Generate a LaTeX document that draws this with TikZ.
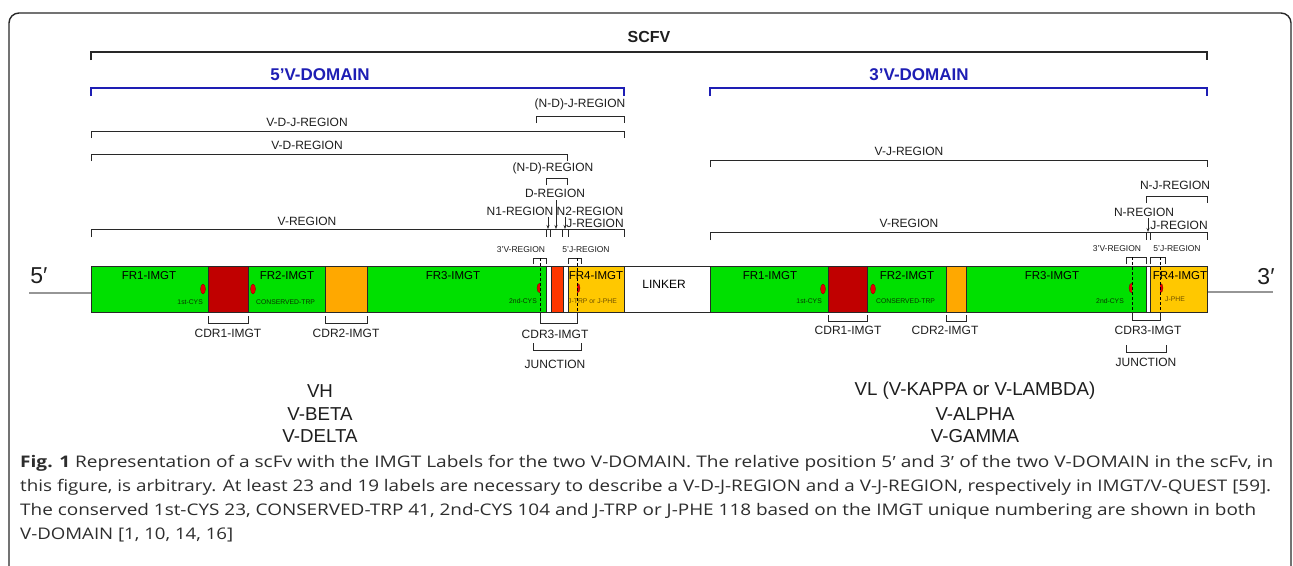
\documentclass[tikz,border=0pt]{standalone}
\usepackage{fontspec}
\setmainfont{Liberation Sans}
\newfontfamily\capfont{Open Sans}
\newfontfamily\libsans{Liberation Sans}
\usepackage{graphicx}
\usetikzlibrary{arrows.meta}
\definecolor{fgreen}{RGB}{0,224,0}
\definecolor{cdrone}{RGB}{192,0,0}
\definecolor{cdrtwo}{RGB}{255,168,0}
\definecolor{dseg}{RGB}{255,55,0}
\definecolor{frfour}{RGB}{255,200,0}
\definecolor{dblue}{RGB}{30,30,180}
\definecolor{glin}{RGB}{150,150,150}
\definecolor{lnc}{RGB}{40,40,40}
\definecolor{txt}{RGB}{30,30,30}
\definecolor{captxt}{RGB}{45,45,45}
\definecolor{tgreen}{RGB}{10,50,0}
\definecolor{tbrown}{RGB}{110,80,0}
\definecolor{resred}{RGB}{230,0,0}
\definecolor{framec}{RGB}{40,40,40}
\newlength\capw
\newcommand\fitline[2]{\settowidth\capw{#2}\pgfmathsetmacro\capsc{#1/\capw}\scalebox{\capsc}[1]{#2}}
\newcommand\pr{{\libsans ′}}
\newcommand\brkt[4]{\draw[br] (#1,#4) -- (#1,#3) -- (#2,#3) -- (#2,#4);}
\tikzset{
 lab/.style={inner sep=0, text=txt, font=\fontsize{12}{13}\selectfont},
 sml/.style={inner sep=0, text=txt, font=\fontsize{8.5}{10}\selectfont},
 tny/.style={inner sep=0, text=tgreen, font=\fontsize{6.8}{8}\selectfont},
 seglab/.style={inner sep=0, text=black, font=\fontsize{11.5}{12}\selectfont},
 big/.style={inner sep=0, text=txt, font=\fontsize{18.7}{20}\selectfont},
 prime/.style={inner sep=0, text=txt, font=\fontsize{23}{24}\selectfont},
 seg/.style={draw=lnc, line width=0.8pt},
 br/.style={draw=lnc, line width=0.8pt},
 dsh/.style={draw=black, line width=0.8pt, dash pattern=on 3pt off 2pt},
 res/.style={fill=resred, draw=resred!55!black, line width=0.3pt},
 arr/.style={draw=lnc, line width=0.8pt, -{Stealth[length=4pt,width=3pt]}},
}
\begin{document}
\begin{tikzpicture}[x=1pt,y=-1pt]
\useasboundingbox (0,0) rectangle (1293,565);
\fill[white] (0,0) rectangle (1293,565);
% frame
\draw[framec, line width=1.4pt, rounded corners=10pt] (9,600) -- (9,13) -- (1291,13) -- (1291,600);

% ===== top brackets =====
\node[inner sep=0, font=\bfseries\fontsize{16}{17}\selectfont, text=txt] (scfv) at (649,37) {SCFV};
\draw[lnc, line width=2pt] (91,60) -- (91,52) -- (1207,52) -- (1207,60);
\node[inner sep=0, font=\bfseries\fontsize{17}{18}\selectfont, text=dblue] (vd5) at (320,75) {5’V-DOMAIN};
\node[inner sep=0, font=\bfseries\fontsize{17}{18}\selectfont, text=dblue] (vd3) at (919,75) {3’V-DOMAIN};
\draw[dblue, line width=2pt] (91,96) -- (91,88) -- (624,88) -- (624,96);
\draw[dblue, line width=2pt] (710,96) -- (710,88) -- (1207,88) -- (1207,96);

% left domain brackets
\node[lab] (ndj) at (580,104) {(N-D)-J-REGION};
\brkt{536}{624}{116}{123}
\node[lab] (vdj) at (307,122) {V-D-J-REGION};
\brkt{91}{624}{131}{138}
\node[lab] (vdr) at (307,145) {V-D-REGION};
\brkt{91}{567}{154}{161}
\node[lab] (ndr) at (553,168) {(N-D)-REGION};
\brkt{546}{567}{178}{185}
\node[lab] (dr) at (555,193) {D-REGION};
\node[lab] (n1) at (520,211) {N1-REGION};
\node[lab] (n2) at (590,211) {N2-REGION};
\node[lab] (jr) at (595,223) {J-REGION};
\node[lab] (vr) at (307,221) {V-REGION};
\draw[br] (91,237) -- (91,229) -- (624,229) -- (624,237);
\foreach \t in {546,550,562,568} {\draw[br] (\t,229) -- (\t,237);}
\draw[arr] (548,217) -- (548,229);
\draw[arr] (556,200) -- (556,229);
\draw[arr] (565,217) -- (565,229);
\node[sml] (v3l) at (521,250) {3’V-REGION};
\brkt{533}{546}{258}{264}
\node[sml] (j5l) at (586,250) {5’J-REGION};
\brkt{568}{581}{258}{264}

% right domain brackets
\node[lab] (vj) at (909,151) {V-J-REGION};
\brkt{710}{1207}{160}{167}
\node[lab] (nj) at (1175,185) {N-J-REGION};
\brkt{1146}{1207}{196}{203}
\node[lab] (nr) at (1144,212) {N-REGION};
\node[lab] (jr2) at (1179,225) {J-REGION};
\node[lab] (vr2) at (909,223) {V-REGION};
\draw[br] (710,240) -- (710,232) -- (1207,232) -- (1207,240);
\foreach \t in {1146,1150} {\draw[br] (\t,232) -- (\t,240);}
\draw[arr] (1148,218) -- (1148,232);
\node[sml] (v3r) at (1117,249) {3’V-REGION};
\brkt{1126}{1146}{257}{264}
\node[sml] (j5r) at (1177,249) {5’J-REGION};
\brkt{1150}{1165}{257}{264}

% ===== 5' / 3' lines =====
\draw[glin, line width=2pt] (29,293) -- (91,293);
\draw[glin, line width=2pt] (1207,292) -- (1273,292);
\node[prime] (p5) at (39,276) {5′};
\node[prime] (p3) at (1266,277) {3′};

% ===== left bar =====
\draw[seg, fill=fgreen] (91,266) rectangle (208,312);
\draw[seg, fill=cdrone] (208,266) rectangle (248,312);
\draw[seg, fill=fgreen] (248,266) rectangle (325,312);
\draw[seg, fill=cdrtwo] (325,266) rectangle (367,312);
\draw[seg, fill=fgreen] (367,266) rectangle (546,312);
\draw[seg, fill=white] (546,266) rectangle (551,312);
\draw[seg, fill=dseg] (551,266) rectangle (563,312);
\draw[seg, fill=white] (563,266) rectangle (568,312);
\draw[seg, fill=frfour] (568,266) rectangle (624,312);
\draw[seg, fill=white] (624,266) rectangle (710,312);
\node[seglab] (fr1l) at (149,276) {FR1-IMGT};
\node[seglab] (fr2l) at (287,276) {FR2-IMGT};
\node[seglab] (fr3l) at (453,276) {FR3-IMGT};
\node[seglab] (fr4l) at (596,276) {FR4-IMGT};
\node[seglab, font=\fontsize{12}{12}\selectfont] (lnk) at (664,284) {LINKER};
\fill[res] (203,289) ellipse (2.5pt and 5pt);
\fill[res] (253,289) ellipse (2.5pt and 5pt);
\node[tny, anchor=east] (c1l) at (203,302) {1st-CYS};
\node[tny, anchor=west] (wl) at (256,302) {CONSERVED-TRP};
\begin{scope}
\clip (530,280) rectangle (540,298);
\fill[res] (540,288) ellipse (3pt and 5pt);
\end{scope}
\begin{scope}
\clip (577,280) rectangle (587,298);
\fill[res] (577,288) ellipse (3pt and 5pt);
\end{scope}
\node[tny, anchor=east] (c2l) at (537,301) {2nd-CYS};
\node[tny, anchor=west, text=tbrown] (jl) at (568,301) {J-TRP or J-PHE};
\draw[dsh] (540,258) -- (540,312);
\draw[dsh] (577,258) -- (577,312);

% left lower brackets
\draw[br] (208,316) -- (208,323) -- (248,323) -- (248,316);
\node[lab] (cdr1l) at (228,333) {CDR1-IMGT};
\draw[br] (325,316) -- (325,323) -- (367,323) -- (367,316);
\node[lab] (cdr2l) at (346,333) {CDR2-IMGT};
\draw[br] (540,312) -- (540,323) -- (577,323) -- (577,312);
\node[lab] (cdr3l) at (555,334) {CDR3-IMGT};
\draw[br] (533,343) -- (533,350) -- (581,350) -- (581,343);
\node[lab] (jnl) at (555,364) {JUNCTION};

% ===== right bar =====
\draw[seg, fill=fgreen] (710,266) rectangle (828,312);
\draw[seg, fill=cdrone] (828,266) rectangle (867,312);
\draw[seg, fill=fgreen] (867,266) rectangle (946,312);
\draw[seg, fill=cdrtwo] (946,266) rectangle (966,312);
\draw[seg, fill=fgreen] (966,266) rectangle (1146,312);
\draw[seg, fill=white] (1146,266) rectangle (1150,312);
\draw[seg, fill=frfour] (1150,266) rectangle (1207,312);
\node[seglab] (fr1r) at (770,276) {FR1-IMGT};
\node[seglab] (fr2r) at (907,276) {FR2-IMGT};
\node[seglab] (fr3r) at (1052,276) {FR3-IMGT};
\node[seglab] (fr4r) at (1180,276) {FR4-IMGT};
\fill[res] (823,289) ellipse (2.5pt and 5pt);
\fill[res] (873,289) ellipse (2.5pt and 5pt);
\node[tny, anchor=east] (c1r) at (822,301) {1st-CYS};
\node[tny, anchor=west] (wr) at (876,301) {CONSERVED-TRP};
\begin{scope}
\clip (1122,280) rectangle (1132,298);
\fill[res] (1132,288) ellipse (3pt and 5pt);
\end{scope}
\begin{scope}
\clip (1160,280) rectangle (1170,298);
\fill[res] (1160,288) ellipse (3pt and 5pt);
\end{scope}
\node[tny, anchor=east] (c2r) at (1124,301) {2nd-CYS};
\node[tny, anchor=west, text=tbrown] (jr3) at (1165,299) {J-PHE};
\draw[dsh] (1132,257) -- (1132,312);
\draw[dsh] (1160,257) -- (1160,312);

% right lower brackets
\draw[br] (828,315) -- (828,321) -- (867,321) -- (867,315);
\node[lab] (cdr1r) at (848,330) {CDR1-IMGT};
\draw[br] (946,315) -- (946,321) -- (966,321) -- (966,315);
\node[lab] (cdr2r) at (945,330) {CDR2-IMGT};
\draw[br] (1132,312) -- (1132,320) -- (1160,320) -- (1160,312);
\node[lab] (cdr3r) at (1148,330) {CDR3-IMGT};
\draw[br] (1126,345) -- (1126,352) -- (1166,352) -- (1166,345);
\node[lab] (jnr) at (1146,362) {JUNCTION};

% ===== chain names =====
\node[big] (vh) at (320,391) {VH};
\node[big] (vb) at (320,414) {V-BETA};
\node[big] (vdl) at (320,436) {V-DELTA};
\node[big] (vl) at (975,391) {VL (V-KAPPA or V-LAMBDA)};
\node[big] (va) at (975,414) {V-ALPHA};
\node[big] (vg) at (975,436) {V-GAMMA};

% ===== caption =====
\begin{scope}[every node/.style={inner sep=0, anchor=base west, text=captxt, font=\capfont\fontsize{16}{18}\selectfont}]
\node (cap1) at (20,467) {\fitline{1253}{\textbf{Fig. 1} Representation of a scFv with the IMGT Labels for the two V-DOMAIN. The relative position 5\pr{} and 3\pr{} of the two V-DOMAIN in the scFv, in}};
\node (cap2) at (20,491) {\fitline{1251}{this figure, is arbitrary. At least 23 and 19 labels are necessary to describe a V-D-J-REGION and a V-J-REGION, respectively in IMGT/V-QUEST [59].}};
\node (cap3) at (20,515) {\fitline{1236}{The conserved 1st-CYS 23, CONSERVED-TRP 41, 2nd-CYS 104 and J-TRP or J-PHE 118 based on the IMGT unique numbering are shown in both}};
\node (cap4) at (20,539) {\fitline{213}{V-DOMAIN [1, 10, 14, 16]}};
\end{scope}
\end{tikzpicture}
\end{document}
